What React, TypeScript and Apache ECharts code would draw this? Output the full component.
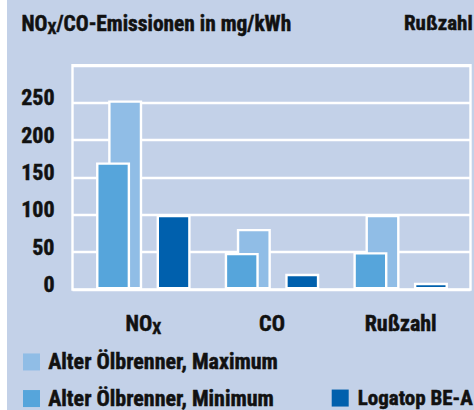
import React, { useEffect, useRef } from 'react';
import * as echarts from 'echarts';

const categories = ['NOx', 'CO', 'Rußzahl'];
const maxValues = [253, 81, 100];
const minValues = [170, 49, 50];
const logatopValues = [100, 21, 9];
const seriesNames = ['Alter Ölbrenner, Maximum', 'Alter Ölbrenner, Minimum', 'Logatop BE-A'];
const yMin = 0;
const yMax = 300;
const yStep = 50;
const titleText = '{a|NO}{s|X}{a|/CO-Emissionen in mg/kWh}';
const rightTitle = 'Rußzahl';

const FONT = '"Roboto Condensed", "Fira Sans Condensed", "DejaVu Sans Condensed", sans-serif';
const BG = '#c3d1e8';
const C_MAX = '#90bde6';
const C_MIN = '#56a5db';
const C_LOG = '#0060ad';
const TXT = '#111111';
const FS = 22;
const HEAVY = { textBorderColor: TXT, textBorderWidth: 0.5 };

const makeRich = (size: number) => ({
  a: { fontFamily: FONT, fontWeight: 'bold', fontSize: size, lineHeight: 26, color: TXT, ...HEAVY },
  s: { fontFamily: FONT, fontWeight: 'bold', fontSize: 16, lineHeight: 17, color: TXT, verticalAlign: 'bottom', ...HEAVY },
});

const legendBase = {
  orient: 'horizontal',
  padding: 0,
  itemWidth: 17,
  itemHeight: 17,
  icon: 'rect',
  selectedMode: false,
  itemStyle: { borderWidth: 0 },
};
const legendText = (size: number, pad: number) => ({
  fontFamily: FONT, fontWeight: 'bold', fontSize: size, lineHeight: 17, color: TXT, padding: [0, 0, 0, pad], ...HEAVY,
});

const barBase = {
  type: 'bar',
  xAxisIndex: 1,
  yAxisIndex: 1,
  barWidth: 34,
  barGap: '-64.4%',
};

const option = {
  animation: false,
  backgroundColor: BG,
  graphic: [
    { type: 'rect', shape: { x: 0, y: 0, width: 7, height: 410 }, style: { fill: '#ffffff' }, silent: true },
    {
      type: 'text',
      style: {
        x: 404, y: 23.3, text: rightTitle, fill: TXT, stroke: TXT, lineWidth: 0.5,
        fontFamily: FONT, fontWeight: 'bold', fontSize: 21, align: 'left', verticalAlign: 'middle',
      },
      silent: true,
    },
  ],
  title: {
    text: titleText,
    left: 21.5,
    top: 10,
    padding: 0,
    textStyle: { rich: makeRich(21.4) },
  },
  grid: [
    { left: 72.5, top: 65.3, width: 398, height: 224.2, show: true, borderColor: '#ffffff', borderWidth: 2.4, backgroundColor: 'transparent' },
    { left: 79, top: 65.3, width: 386, height: 224.2 },
  ],
  xAxis: [
    { gridIndex: 0, type: 'category', data: categories, show: false },
    {
      gridIndex: 1,
      type: 'category',
      data: categories,
      axisLine: { show: false },
      axisTick: { show: false },
      axisLabel: {
        margin: 20.5,
        formatter: (v: string) => (v === 'NOx' ? '{a|NO}{s|X}' : '{a|' + v + '}'),
        rich: makeRich(FS),
      },
    },
  ],
  yAxis: [
    {
      gridIndex: 0,
      type: 'value',
      min: yMin,
      max: yMax,
      interval: yStep,
      axisLine: { show: false },
      axisTick: { show: false },
      splitLine: { show: true, lineStyle: { color: '#ffffff', width: 2.4 } },
      axisLabel: {
        margin: 18,
        fontFamily: FONT,
        fontWeight: 'bold',
        fontSize: FS,
        color: TXT,
        ...HEAVY,
        verticalAlign: 'bottom',
        lineHeight: 10,
        formatter: (v: number) => (v === yMax ? '' : String(v)),
      },
    },
    { gridIndex: 1, type: 'value', min: yMin, max: yMax, interval: yStep, show: false, splitLine: { show: false } },
  ],
  legend: [
    { ...legendBase, data: [seriesNames[0]], left: 23, top: 350.7, textStyle: legendText(FS, 3.2) },
    { ...legendBase, data: [seriesNames[1]], left: 23, top: 387.3, textStyle: legendText(FS, 3.2) },
    { ...legendBase, data: [seriesNames[2]], left: 331.7, top: 387.3, textStyle: legendText(21, 4) },
  ],
  series: [
    { ...barBase, name: seriesNames[1], data: minValues, z: 3, itemStyle: { color: C_MIN, borderColor: '#ffffff', borderWidth: 2.4 } },
    { ...barBase, name: seriesNames[0], data: maxValues, z: 2, itemStyle: { color: C_MAX, borderColor: '#ffffff', borderWidth: 2.4 } },
    { ...barBase, name: 'slot3', data: [] },
    { ...barBase, name: 'slot4', data: [] },
    { ...barBase, name: 'slot5', data: [] },
    { ...barBase, name: seriesNames[2], data: logatopValues, z: 2, itemStyle: { color: C_LOG, borderColor: '#ffffff', borderWidth: 2.4 } },
  ],
};

export default function App() {
  const ref = useRef<HTMLDivElement>(null);
  useEffect(() => {
    const chart = echarts.init(ref.current!, null, { renderer: 'svg' });
    chart.setOption(option as any);
    return () => chart.dispose();
  }, []);
  return <div ref={ref} style={{ position: 'fixed', left: 0, top: 0, width: 474, height: 410 }} />;
}
